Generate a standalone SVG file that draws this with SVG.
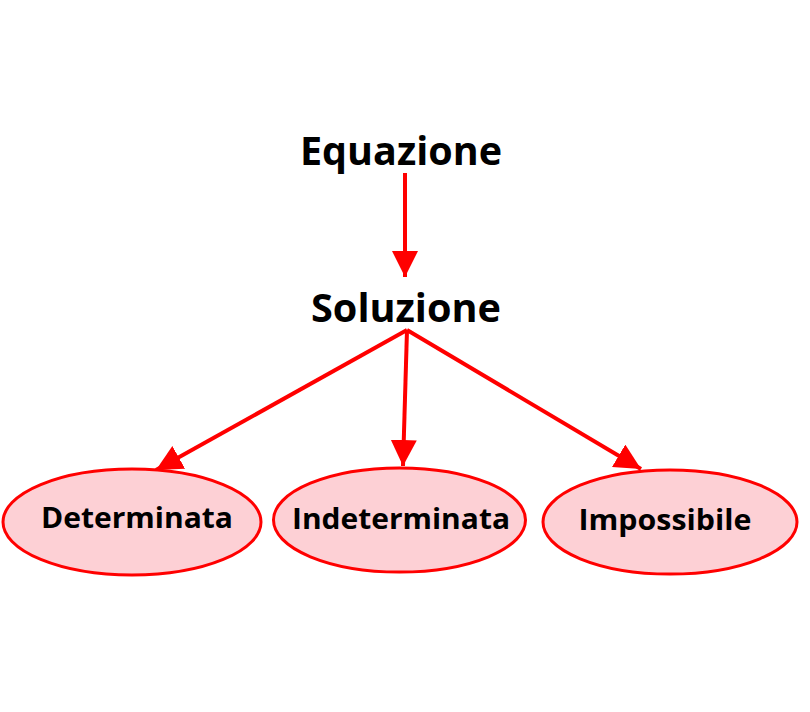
<svg xmlns="http://www.w3.org/2000/svg" width="810" height="712" viewBox="0 0 810 712">
<style>
.t{font-family:"Open Sans","Liberation Sans",sans-serif;font-weight:bold;fill:#000;text-anchor:middle}
.big{font-size:39px}
.sm{font-size:28px}
.e{fill:#fdd0d5;stroke:#f00;stroke-width:3}
.c{stroke:#f00;stroke-width:4;fill:none}
</style>
<defs>
<marker id="ah" markerUnits="userSpaceOnUse" markerWidth="26" markerHeight="26" viewBox="0 0 26 26" refX="26" refY="13" orient="auto">
<path d="M0,0 L26,13 L0,26 Z" fill="#f00"/>
</marker>
</defs>
<rect width="810" height="712" fill="#fff"/>
<g id="connectors">
<line class="c" x1="405" y1="173" x2="405" y2="277" marker-end="url(#ah)"/>
<line class="c" x1="407" y1="330" x2="156" y2="470" marker-end="url(#ah)"/>
<line class="c" x1="407" y1="330" x2="403" y2="466" marker-end="url(#ah)"/>
<line class="c" x1="407" y1="330" x2="641" y2="469" marker-end="url(#ah)"/>
</g>
<g id="equazione"><text class="t big" x="401" y="165" textLength="202" lengthAdjust="spacingAndGlyphs">Equazione</text></g>
<g id="soluzione"><text class="t big" x="406" y="322" textLength="190" lengthAdjust="spacingAndGlyphs">Soluzione</text></g>
<g id="determinata"><ellipse class="e" cx="132" cy="522" rx="129" ry="53"/><text class="t sm" x="137" y="528" textLength="192" lengthAdjust="spacingAndGlyphs">Determinata</text></g>
<g id="indeterminata"><ellipse class="e" cx="399.5" cy="520" rx="126" ry="52"/><text class="t sm" x="401" y="529" textLength="218" lengthAdjust="spacingAndGlyphs">Indeterminata</text></g>
<g id="impossibile"><ellipse class="e" cx="670" cy="522" rx="127" ry="52"/><text class="t sm" x="665" y="530" textLength="173" lengthAdjust="spacingAndGlyphs">Impossibile</text></g>
</svg>
